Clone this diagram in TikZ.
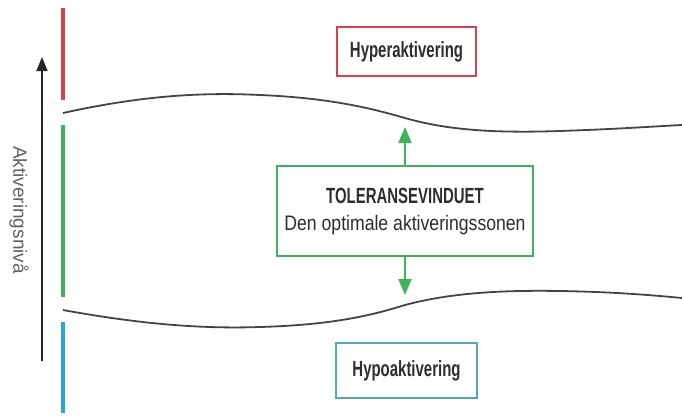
\documentclass[tikz,border=0pt]{standalone}
\usepackage{fontspec}
\setmainfont{Liberation Sans}
\newfontfamily\headfont{Liberation Sans}[FakeStretch=0.68]
\newfontfamily\bodyfont{Liberation Sans}[FakeStretch=0.84]
\usetikzlibrary{arrows.meta}
\definecolor{hyperred}{HTML}{D8424F}
\definecolor{zonegreen}{HTML}{3BB45A}
\definecolor{hypoblue}{HTML}{2BA6D6}
\definecolor{hypoteal}{HTML}{4FA9B6}
\definecolor{inkgray}{HTML}{2E2E2E}
\definecolor{curvegray}{HTML}{444444}
\tikzset{
  levelbar/.style={line width=4pt},
  boundary/.style={draw=curvegray, line width=1.8pt},
  statebox/.style={draw, line width=2.6pt, fill=white, text=inkgray, inner sep=0pt, align=center},
  boxtitle/.style={font=\headfont\bfseries\fontsize{22}{26}\selectfont},
  zonearrow/.style={draw=zonegreen, line width=2.2pt, -{Triangle[length=16pt,width=13pt]}},
}
\begin{document}
\begin{tikzpicture}[x=1pt,y=-1pt]
\useasboundingbox (0,0) rectangle (682,415);
% level bars at the left edge
\draw[levelbar, hyperred] (63,8) -- (63,100);
\draw[levelbar, zonegreen] (63,125) -- (63,297);
\draw[levelbar, hypoblue] (63,322) -- (63,413);
% activation axis
\coordinate (axisbot) at (42,361);
\coordinate (axistop) at (42,57);
\draw[draw=black!85, line width=1.6pt, -{Triangle[length=14pt,width=11pt]}] (axisbot) -- (axistop);
\node[rotate=-90, text=black!62, font=\fontsize{19}{22}\selectfont] (axislabel) at (19,210) {Aktiveringsnivå};
% window boundaries
\draw[boundary] (63,113) .. controls (140,96) and (200,92) .. (260,95)
  .. controls (330,98) and (370,108) .. (405,118)
  .. controls (450,131) and (500,133) .. (560,131)
  .. controls (620,129) and (660,126) .. (682,125);
\draw[boundary] (63,310) .. controls (140,324) and (200,329) .. (260,327)
  .. controls (330,325) and (370,316) .. (405,305)
  .. controls (450,293) and (500,290) .. (560,291)
  .. controls (620,292) and (660,296) .. (682,298);
% state boxes
\node[statebox, boxtitle, draw=hyperred, minimum width=139pt, minimum height=49pt] (hyper) at (406.5,51.5) {Hyperaktivering};
\node[statebox, draw=zonegreen, minimum width=256pt, minimum height=90pt] (window) at (405,211) {};
\node[text=inkgray, font=\headfont\bfseries\fontsize{22}{26}\selectfont, anchor=base] (wintitle) at (405,203) {TOLERANSEVINDUET};
\node[text=inkgray, font=\bodyfont\fontsize{21}{26}\selectfont, anchor=base] (winsub) at (405,230) {Den optimale aktiveringssonen};
\node[statebox, boxtitle, draw=hypoteal, minimum width=141pt, minimum height=55pt] (hypo) at (406.5,370.5) {Hypoaktivering};
% widening arrows
\coordinate (uptip) at (405,127);
\coordinate (downtip) at (405,295);
\draw[zonearrow] (window.north) -- (uptip);
\draw[zonearrow] (window.south) -- (downtip);
\end{tikzpicture}
\end{document}
